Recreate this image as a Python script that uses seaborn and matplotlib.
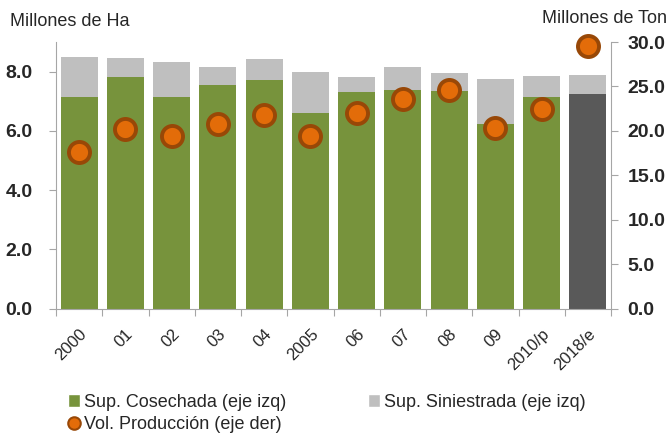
import numpy as np
import pandas as pd
import seaborn as sns
import matplotlib.pyplot as plt
from matplotlib.patches import Patch
from matplotlib.lines import Line2D

# Data
years = ["2000", "01", "02", "03", "04", "2005", "06", "07", "08", "09", "2010/p", "2018/e"]
sup_cosechada = [7.13, 7.81, 7.13, 7.54, 7.71, 6.59, 7.30, 7.37, 7.33, 6.25, 7.13, 7.23]
sup_siniestrada = [1.35, 0.64, 1.18, 0.61, 0.71, 1.39, 0.51, 0.78, 0.61, 1.49, 0.71, 0.65]
vol_produccion = [17.6, 20.2, 19.4, 20.8, 21.8, 19.4, 22.0, 23.6, 24.6, 20.3, 22.5, 29.5]

green = "#77933C"
gray = "#BFBFBF"
dark = "#595959"
orange = "#E36C09"
brown = "#984807"
spine_col = "#A6A6A6"

df = pd.DataFrame({
    "year": years,
    "cosechada": sup_cosechada,
    "total": np.array(sup_cosechada) + np.array(sup_siniestrada),
    "produccion": vol_produccion,
})

sns.set_style("white")
plt.rcParams["font.family"] = ["Liberation Sans", "DejaVu Sans"]

fig = plt.figure(figsize=(6.7, 4.34), dpi=100)
ax = fig.add_axes([0.0836, 0.2887, 0.8284, 0.6145])

# Stacked bars: total in gray, harvested area on top of it
sns.barplot(data=df, x="year", y="total", color=gray, width=0.8, saturation=1,
            linewidth=0, ax=ax)
bar_palette = {y: green for y in years}
bar_palette["2018/e"] = dark
sns.barplot(data=df, x="year", y="cosechada", hue="year", palette=bar_palette,
            width=0.8, saturation=1, legend=False, dodge=False, linewidth=0, ax=ax)

ax.set_ylim(0, 9)
ax.set_yticks([0, 2, 4, 6, 8])
ax.set_yticklabels([f"{v:.1f}" for v in [0, 2, 4, 6, 8]], fontsize=14, fontweight="bold")
ax.set_xlim(-0.5, len(years) - 0.5)
ax.set_xlabel("")
ax.set_ylabel("")

# ticks between categories, labels at centers
ax.set_xticks(np.arange(-0.5, len(years), 1.0))
ax.set_xticklabels([])
ax.set_xticks(np.arange(len(years)), minor=True)
ax.set_xticklabels(years, minor=True, rotation=45, ha="right", rotation_mode="anchor",
                   fontsize=12)
ax.tick_params(axis="x", which="major", length=5, color=spine_col, direction="out", bottom=True)
ax.tick_params(axis="x", which="minor", length=0, pad=13)
ax.tick_params(axis="y", length=5, color=spine_col, direction="out", left=True, pad=12)

for s in ["top", "right"]:
    ax.spines[s].set_visible(False)
for s in ["left", "bottom"]:
    ax.spines[s].set_color(spine_col)

# Production on the right axis
ax2 = ax.twinx()
sns.scatterplot(data=df, x="year", y="produccion", s=230, color=orange,
                edgecolor=brown, linewidth=2.8, zorder=5, clip_on=False, ax=ax2)
ax2.set_ylim(0, 30)
ax2.set_yticks([0, 5, 10, 15, 20, 25, 30])
ax2.set_yticklabels([f"{v:.1f}" for v in [0, 5, 10, 15, 20, 25, 30]], fontsize=14,
                    fontweight="bold")
ax2.set_ylabel("")
ax2.tick_params(axis="y", length=5, color=spine_col, direction="out", right=True, pad=7)
for s in ["top", "left", "bottom"]:
    ax2.spines[s].set_visible(False)
ax2.spines["right"].set_color(spine_col)

fig.text(0.015, 0.95, "Millones de Ha", fontsize=13, va="center", ha="left")
fig.text(0.996, 0.958, "Millones de Ton", fontsize=13, va="center", ha="right")

handles = [
    Patch(facecolor=green, label="Sup. Cosechada (eje izq)"),
    Line2D([], [], marker="o", linestyle="", markerfacecolor=orange, markeredgecolor=brown,
           markeredgewidth=1.5, markersize=9, label="Vol. Producción (eje der)"),
    Patch(facecolor=gray, label="Sup. Siniestrada (eje izq)"),
]
fig.legend(handles=handles, ncol=2, loc="lower left", bbox_to_anchor=(0.077, -0.035),
           frameon=False, fontsize=13, handlelength=0.7, handleheight=0.7,
           handletextpad=0.2, columnspacing=4.5, labelspacing=0.3)

fig.savefig("out.png", dpi=100)
